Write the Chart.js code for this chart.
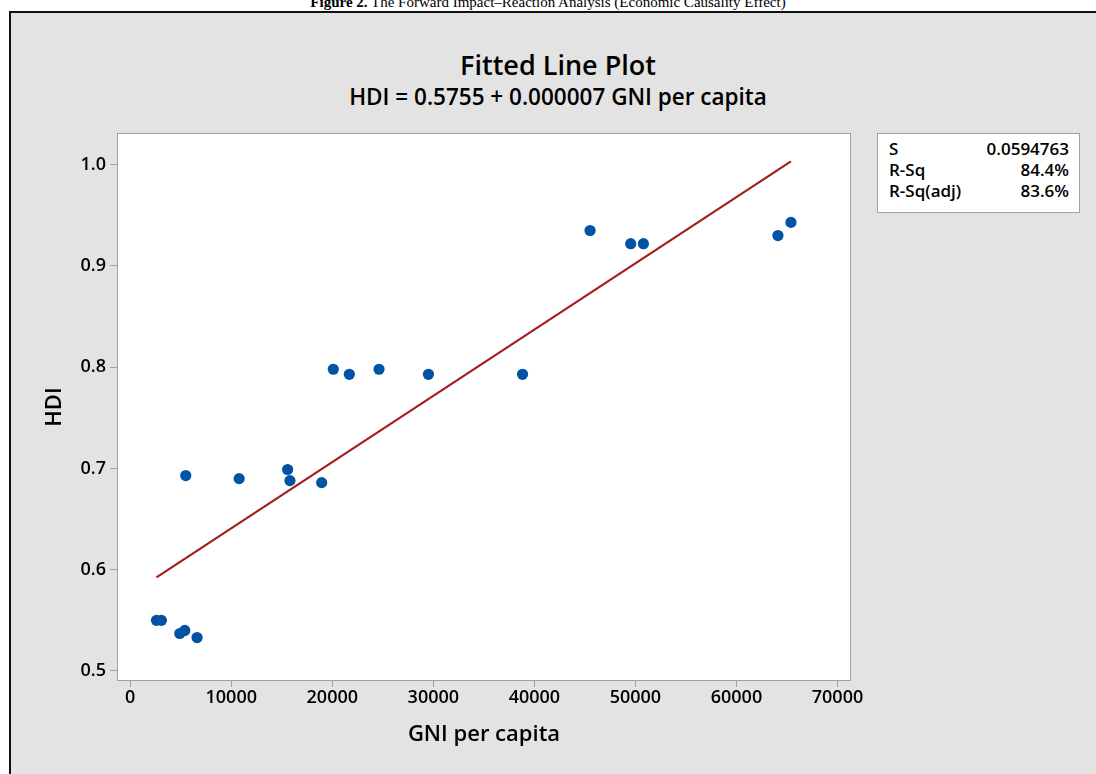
<!DOCTYPE html>
<html>
<head>
<meta charset="utf-8">
<script src="https://cdn.jsdelivr.net/npm/chart.js@4.4.1/dist/chart.umd.min.js"></script>
<style>
  html, body { margin: 0; padding: 0; background: #ffffff; width: 1096px; height: 774px; overflow: hidden; }
  #caption { position: absolute; left: 0; top: -4.6px; width: 1096px; text-align: center;
    font-family: "Liberation Serif", "DejaVu Serif", serif; font-size: 15px; line-height: 15px; color: #000; white-space: nowrap; }
  #frame { position: absolute; left: 9px; top: 11px; width: 1200px; height: 900px;
    background: #e3e3e3; border-left: 2px solid #111; border-top: 2px solid #111; }
  .ttl { position: absolute; left: 0; width: 1116px; text-align: center; font-family: "Open Sans", sans-serif;
    font-weight: 600; color: #000; white-space: nowrap; }
  #title { top: 51px; font-size: 27px; line-height: 27px; }
  #subtitle { top: 86px; font-size: 22.5px; line-height: 22.5px; }
  #wrap { position: absolute; left: 0; top: 0; width: 1096px; height: 774px; }
  #stats { position: absolute; left: 877px; top: 133px; width: 201px; height: 74px; background: #fff;
    border: 1px solid #a0a0a0; font-family: "Open Sans", sans-serif; font-weight: 600; font-size: 17px;
    line-height: 21px; color: #000; padding-top: 4px; box-sizing: content-box; }
  .row { position: relative; height: 21px; }
  .row .k { position: absolute; left: 11px; }
  .row .v { position: absolute; right: 10px; }
</style>
</head>
<body>
<div id="caption"><b>Figure 2.</b> The Forward Impact–Reaction Analysis (Economic Causality Effect)</div>
<div id="frame"></div>
<div class="ttl" id="title">Fitted Line Plot</div>
<div class="ttl" id="subtitle">HDI = 0.5755 + 0.000007 GNI per capita</div>
<div id="wrap"><canvas id="c" width="1096" height="774"></canvas></div>
<div id="stats"></div>
<script>
// ---- data ----
const gniPerCapita = [2597, 3092, 4906, 5401, 6620, 5500, 10783, 15580, 15808, 18949,
                      20100, 21685, 24628, 29515, 38830, 45510, 49534, 50793, 64104, 65392];
const hdi = [0.550, 0.550, 0.537, 0.540, 0.533, 0.693, 0.690, 0.699, 0.688, 0.686,
             0.798, 0.793, 0.798, 0.793, 0.793, 0.935, 0.922, 0.922, 0.930, 0.943];
const fitX = [2597, 65392];
const fitY = [0.5925, 1.0032];
const xTicks = [0, 10000, 20000, 30000, 40000, 50000, 60000, 70000];
const yTicks = [0.5, 0.6, 0.7, 0.8, 0.9, 1.0];
const statLabels = ["S", "R-Sq", "R-Sq(adj)"];
const statValues = ["0.0594763", "84.4%", "83.6%"];
const xRange = [-1306, 71337];
const yRange = [0.4901, 1.0313];

// stats box text
const statsEl = document.getElementById('stats');
statLabels.forEach((k, i) => {
  const r = document.createElement('div'); r.className = 'row';
  const a = document.createElement('span'); a.className = 'k'; a.textContent = k;
  const b = document.createElement('span'); b.className = 'v'; b.textContent = statValues[i];
  r.appendChild(a); r.appendChild(b); statsEl.appendChild(r);
});

const plotBg = {
  id: 'plotBg',
  beforeDraw(chart) {
    const {ctx, chartArea: a} = chart;
    ctx.save();
    ctx.fillStyle = '#ffffff';
    ctx.fillRect(a.left, a.top, a.right - a.left, a.bottom - a.top);
    ctx.strokeStyle = '#a0a0a0';
    ctx.lineWidth = 1;
    ctx.strokeRect(Math.round(a.left) + 0.5, Math.round(a.top) + 0.5,
                   Math.round(a.right - a.left) - 1, Math.round(a.bottom - a.top) - 1);
    ctx.restore();
  }
};

const tickFont = { family: 'Open Sans', weight: '600', size: 18 };
const titleFont = { family: 'Open Sans', weight: '600', size: 22 };

new Chart(document.getElementById('c'), {
  type: 'scatter',
  data: {
    datasets: [
      {
        type: 'line',
        data: fitX.map((x, i) => ({ x, y: fitY[i] })),
        borderColor: '#a51d1d',
        borderWidth: 2.2,
        pointRadius: 0,
        fill: false,
        order: 2
      },
      {
        data: gniPerCapita.map((x, i) => ({ x, y: hdi[i] })),
        backgroundColor: '#0053a5',
        borderWidth: 0,
        pointRadius: 5.6,
        order: 1
      }
    ]
  },
  options: {
    responsive: false,
    animation: false,
    devicePixelRatio: 1,
    layout: { padding: { left: 0, right: 245, top: 133, bottom: 0 } },
    plugins: { legend: { display: false }, tooltip: { enabled: false }, title: { display: false } },
    scales: {
      x: {
        type: 'linear',
        min: xRange[0], max: xRange[1],
        afterBuildTicks: s => { s.ticks = xTicks.map(v => ({ value: v })); },
        afterFit: s => { s.height = 93; },
        ticks: { font: tickFont, color: '#000', padding: 0, maxRotation: 0, autoSkip: false,
                 callback: v => String(v) },
        grid: { drawOnChartArea: false, drawTicks: true, tickLength: 6, color: '#a0a0a0' },
        border: { display: false },
        title: { display: true, text: 'GNI per capita', font: titleFont, color: '#000',
                 padding: { top: 0, bottom: 26 } }
      },
      y: {
        type: 'linear',
        min: yRange[0], max: yRange[1],
        afterBuildTicks: s => { s.ticks = yTicks.map(v => ({ value: v })); },
        afterFit: s => { s.width = 117; },
        ticks: { font: tickFont, color: '#000', padding: 4, autoSkip: false,
                 callback: v => v.toFixed(1) },
        grid: { drawOnChartArea: false, drawTicks: true, tickLength: 7, color: '#a0a0a0' },
        border: { display: false },
        title: { display: true, text: 'HDI', font: titleFont, color: '#000',
                 padding: { top: 42, bottom: 0 } }
      }
    }
  },
  plugins: [plotBg]
});
</script>
</body>
</html>
